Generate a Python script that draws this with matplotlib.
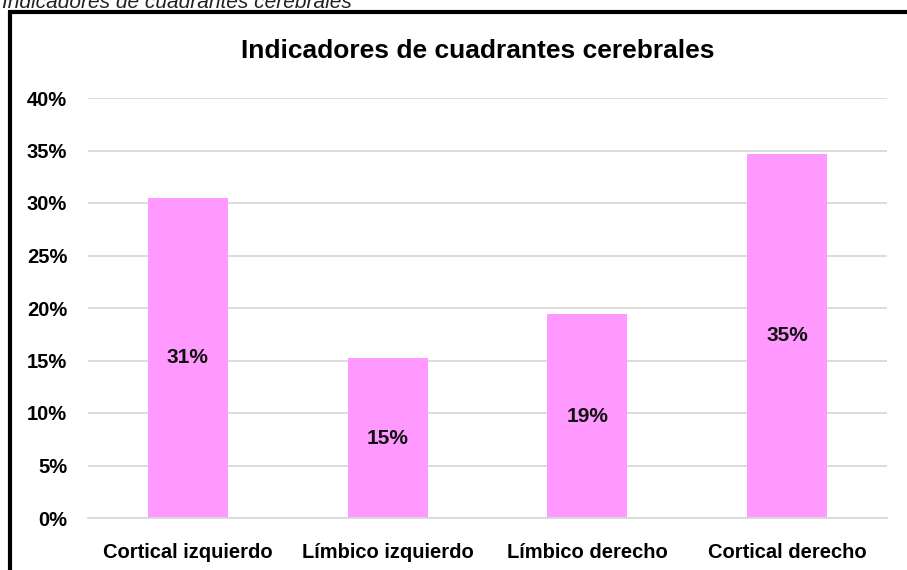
import matplotlib
matplotlib.use("Agg")
import matplotlib.pyplot as plt
from matplotlib import font_manager
from matplotlib.patches import Rectangle
from matplotlib.ticker import FuncFormatter, MultipleLocator

categories = ["Cortical izquierdo", "Límbico izquierdo", "Límbico derecho", "Cortical derecho"]
values = [30.5, 15.2, 19.4, 34.7]
value_labels = ["31%", "15%", "19%", "35%"]
title = "Indicadores de cuadrantes cerebrales"
caption = "Indicadores de cuadrantes cerebrales"

names = {f.name for f in font_manager.fontManager.ttflist}
fam = "Liberation Sans Narrow" if "Liberation Sans Narrow" in names else "Liberation Sans"
plt.rcParams["font.family"] = [fam, "DejaVu Sans"]

fig = plt.figure(figsize=(9.07, 5.70), dpi=100)
W, H = 907, 570

# frame
fig.patches.append(Rectangle((10 / W, -0.1), 1.2, (H - 12.5) / H + 0.1,
                             transform=fig.transFigure, fill=False,
                             edgecolor="black", linewidth=3.0))
fig.text(2 / W, 1 - 2 / H, caption, fontsize=15, style="italic",
         ha="left", va="center", color="#222222", family="Liberation Sans")

ax = fig.add_axes([88 / W, 1 - 518 / H, 799 / W, 420 / H])
x = range(len(categories))
ax.bar(x, values, width=0.4, color="#FF99FF", zorder=2)
for xi, v, lab in zip(x, values, value_labels):
    ax.text(xi, v / 2, lab, ha="center", va="center", fontsize=15,
            fontweight="bold", color="#111111", zorder=3)

ax.set_xlim(-0.5, 3.5)
ax.set_ylim(0, 40)
ax.yaxis.set_major_locator(MultipleLocator(5))
ax.yaxis.set_major_formatter(FuncFormatter(lambda v, p: f"{int(v)}%"))
ax.grid(axis="y", color="#D9D9D9", linewidth=1.3, zorder=0)
ax.set_axisbelow(True)
for s in ["top", "right", "left"]:
    ax.spines[s].set_visible(False)
ax.spines["bottom"].set_color("#D9D9D9")
ax.spines["bottom"].set_linewidth(1.3)
ax.tick_params(axis="y", length=0, pad=15, labelsize=14.5)
ax.tick_params(axis="x", length=0, pad=18, labelsize=14.5)
ax.set_xticks(list(x))
ax.set_xticklabels(categories)
for t in ax.get_yticklabels() + ax.get_xticklabels():
    t.set_fontweight("bold")

fig.text(478 / W, 1 - 51 / H, title, ha="center", va="center",
         fontsize=19, fontweight="bold")

fig.savefig("out.png", dpi=100)
